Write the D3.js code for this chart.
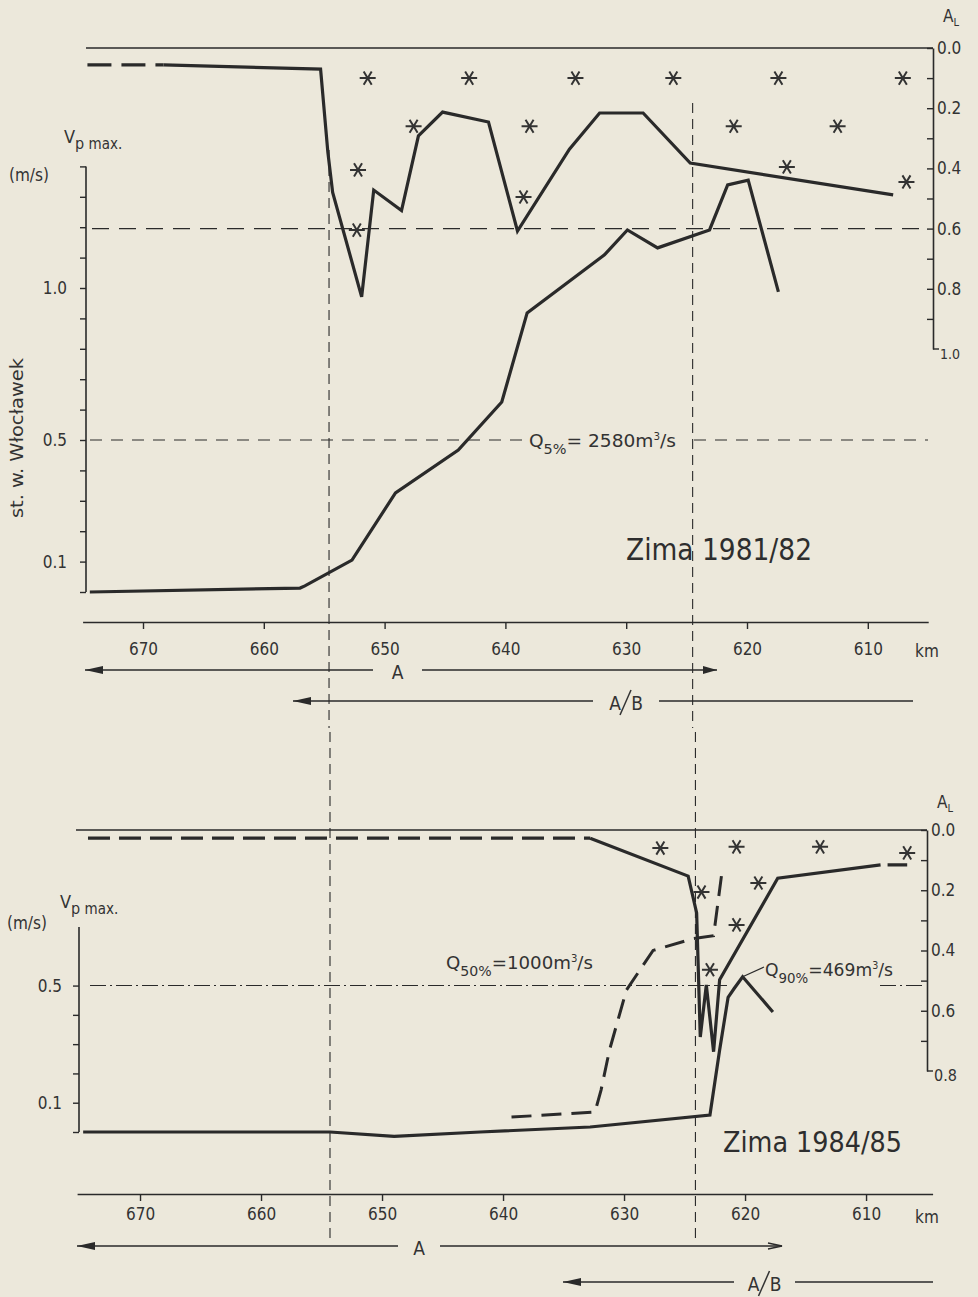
<!DOCTYPE html>
<html><head><meta charset="utf-8">
<script src="https://cdn.jsdelivr.net/npm/d3@7/dist/d3.min.js"></script>
<style>
html,body{margin:0;padding:0;background:#ece8db;}
svg text{font-family:"Liberation Sans Narrow","DejaVu Sans Condensed","Roboto",sans-serif;fill:#333;}
</style></head>
<body>
<svg id="c" width="978" height="1297"></svg>
<script>
// ---------- DATA ----------
const kmTicks = [670, 660, 650, 640, 630, 620, 610];
const topVpTicks = [0,0.1,0.2,0.3,0.4,0.5,0.6,0.7,0.8,0.9,1.0,1.1,1.2,1.3,1.4];
const topVpLabels = [0.1, 0.5, 1.0];
const topALTicks = [0,0.1,0.2,0.3,0.4,0.5,0.6,0.7,0.8,0.9];
const topALLabels = [0.0, 0.2, 0.4, 0.6, 0.8];
const botVpTicks = [0,0.1,0.2,0.3,0.4,0.5];
const botVpLabels = [0.1, 0.5];
const botALTicks = [0,0.1,0.2,0.3,0.4,0.5,0.6,0.7];
const botALLabels = [0.0, 0.2, 0.4, 0.6];

// Zima 1981/82 : ice cover A_L (right axis)
const topALDashed = [[674.6,0.056],[668.3,0.056]];
const topAL = [[668.3,0.056],[655.3,0.07],[654.7,0.345],[654.3,0.48],[651.9,0.827],[650.9,0.472],
  [648.6,0.54],[647.2,0.292],[645.2,0.213],[641.4,0.246],[639.0,0.608],[634.7,0.336],[632.2,0.216],
  [628.6,0.216],[624.7,0.382],[607.9,0.488]];
// Zima 1981/82 : Vp max (left axis)
const topVp = [[674.4,0.0],[657.0,0.013],[656.6,0.02],[652.7,0.105],[649.1,0.326],[643.9,0.467],
  [640.3,0.625],[638.2,0.918],[631.8,1.109],[629.9,1.191],[627.4,1.132],[623.1,1.191],[621.6,1.339],
  [619.9,1.355],[617.4,0.987]];
// asterisks (A_L)
const topStars = [[651.4,0.10],[643.0,0.10],[634.2,0.10],[626.1,0.10],[617.4,0.10],[607.1,0.10],
  [647.6,0.26],[638.0,0.26],[621.1,0.26],[612.5,0.26],
  [652.2,0.405],[616.7,0.395],[606.8,0.445],[638.5,0.495],[652.3,0.605]];
const topQ5 = 0.5;     // Vp level
const topALRef = 0.6;  // A_L level
const topBounds = [654.6, 624.5];

// Zima 1984/85
const botALDashed = [[674.3,0.027],[632.8,0.027]];
const botAL = [[632.8,0.027],[624.7,0.153],[624.0,0.275],[623.7,0.687],[623.2,0.514],[622.6,0.736],
  [622.1,0.497],[617.3,0.16],[608.8,0.116]];
const botALDashedEnd = [[608.8,0.116],[606.6,0.116]];
const botVp90 = [[674.7,0.0],[654.3,0.0],[649.0,-0.015],[641.9,0.0],[632.8,0.017],[622.9,0.058],
  [622.1,0.28],[621.4,0.46],[620.9,0.49],[620.2,0.53],[617.7,0.41]];
const botVp50 = [[639.3,0.051],[632.4,0.068],[631.9,0.143],[631.2,0.28],[629.8,0.485],
  [627.6,0.62],[624.3,0.66],[622.6,0.67],[621.9,0.89]];
const botStars = [[627.0,0.06],[620.7,0.056],[613.8,0.056],[606.6,0.076],
  [623.6,0.206],[618.9,0.176],[620.7,0.315],[622.9,0.464]];
const botQ50 = 0.5;
const botBounds = [654.3, 624.1];

// ---------- DRAW ----------
const svg = d3.select("#c");
const ink = "#2a2a2a";
svg.append("rect").attr("width",978).attr("height",1297).attr("fill","#ece8db");

function asterisk(r){
  const a = r*0.5, b = r*0.82;
  return `M${-r},0L${r},0M${-a},${-b}L${a},${b}M${-a},${b}L${a},${-b}`;
}
function tri(g, x, y, dir, len, half, filled){
  const p = dir<0 ? [[x,y],[x+len,y-half],[x+len,y+half]] : [[x,y],[x-len,y-half],[x-len,y+half]];
  if(filled){
    g.append("path").attr("d","M"+p.map(q=>q.join(",")).join("L")+"Z").attr("fill",ink);
  } else {
    g.append("path").attr("d",`M${p[1][0]},${p[1][1]}L${x},${y}L${p[2][0]},${p[2][1]}`)
      .attr("fill","none").attr("stroke",ink).attr("stroke-width",1.3);
  }
}
function styleAxis(g, fs){
  g.select(".domain").attr("stroke",ink).attr("stroke-width",1.6);
  g.selectAll(".tick line").attr("stroke",ink).attr("stroke-width",1.4);
  g.selectAll(".tick text").attr("fill","#333").style("font-size",fs+"px")
    .style("font-family",'"Liberation Sans Narrow","DejaVu Sans Condensed","Roboto",sans-serif');
}
function sub(g, x, y, parts){
  const t = g.append("text").attr("x",x).attr("y",y);
  parts.forEach(p=>t.append("tspan").attr("dy",p[1]).style("font-size",p[2]+"px").text(p[0]));
  return t;
}

function panel(cfg){
  const g = svg.append("g");
  const x = d3.scaleLinear().domain(cfg.xDomain).range(cfg.xRange);
  const yL = d3.scaleLinear().domain(cfg.vpDomain).range(cfg.vpRange);
  const yR = d3.scaleLinear().domain(cfg.alDomain).range(cfg.alRange);

  g.append("line").attr("x1",cfg.topLineX[0]).attr("x2",cfg.topLineX[1])
    .attr("y1",yR(0)).attr("y2",yR(0)).attr("stroke",ink).attr("stroke-width",1.6);

  const xa = g.append("g").attr("transform",`translate(0,${cfg.xAxisY})`)
    .call(d3.axisBottom(x).tickValues(kmTicks).tickSize(7).tickSizeOuter(0).tickPadding(cfg.xPad).tickFormat(d3.format("d")));
  styleAxis(xa, 17);
  g.append("text").attr("x",cfg.kmX).attr("y",cfg.xAxisY+cfg.kmDy).attr("text-anchor","middle")
    .style("font-size","17px").text("km");

  const la = g.append("g").attr("transform",`translate(${cfg.leftX},0)`)
    .call(d3.axisLeft(yL).tickValues(cfg.vpTicks).tickSize(6).tickSizeOuter(0).tickPadding(cfg.lPad)
      .tickFormat(d => cfg.vpLabels.some(v=>Math.abs(v-d)<1e-9) ? d.toFixed(1) : ""));
  la.select(".domain").attr("d",`M0,${cfg.vpRange[0]}V${cfg.leftTop}`);
  styleAxis(la, 17);

  const ra = g.append("g").attr("transform",`translate(${cfg.rightX},0)`)
    .call(d3.axisRight(yR).tickValues(cfg.alTicks).tickSizeInner(-6).tickSizeOuter(0).tickPadding(4)
      .tickFormat(d => cfg.alLabels.some(v=>Math.abs(v-d)<1e-9) ? d.toFixed(1) : ""));
  styleAxis(ra, 17);
  const end = cfg.alDomain[1];
  g.append("line").attr("x1",cfg.rightX).attr("x2",cfg.rightX+6).attr("y1",yR(end)).attr("y2",yR(end))
    .attr("stroke",ink).attr("stroke-width",1.4);
  g.append("text").attr("x",cfg.rightX+7).attr("y",yR(end)+cfg.endDy).style("font-size",cfg.endFs+"px").text(end.toFixed(1));
  sub(g, cfg.rightX+10, cfg.alLabelY, [["A",0,17],["L",4,11]]);

  sub(g, cfg.vpLabelX, cfg.vpLabelY, [["V",0,18],["p",6,16],[" max.",0,15]]);
  g.append("text").attr("x",cfg.msX).attr("y",cfg.msY).style("font-size","17px").text("(m/s)");

  cfg.bounds.forEach((b,i)=>{
    g.append("line").attr("x1",x(b)).attr("x2",x(b)).attr("y1",cfg.boundY[i][0]).attr("y2",cfg.boundY[i][1])
      .attr("stroke",ink).attr("stroke-width",1.1).attr("stroke-dasharray","10,6");
  });

  const ay = cfg.arrowA.y;
  g.append("line").attr("x1",cfg.arrowA.x0).attr("x2",cfg.arrowA.g0).attr("y1",ay).attr("y2",ay).attr("stroke",ink).attr("stroke-width",1.3);
  g.append("line").attr("x1",cfg.arrowA.g1).attr("x2",cfg.arrowA.x1).attr("y1",ay).attr("y2",ay).attr("stroke",ink).attr("stroke-width",1.3);
  tri(g, cfg.arrowA.x0, ay, -1, 18, 4, true);
  tri(g, cfg.arrowA.x1, ay, 1, 14, cfg.arrowA.openRight?3:4, !cfg.arrowA.openRight);
  g.append("text").attr("x",(cfg.arrowA.g0+cfg.arrowA.g1)/2).attr("y",ay+9).attr("text-anchor","middle")
    .style("font-size","19px").text("A");
  const by = cfg.arrowB.y;
  g.append("line").attr("x1",cfg.arrowB.x0).attr("x2",cfg.arrowB.g0).attr("y1",by).attr("y2",by).attr("stroke",ink).attr("stroke-width",1.3);
  g.append("line").attr("x1",cfg.arrowB.g1).attr("x2",cfg.arrowB.x1).attr("y1",by).attr("y2",by).attr("stroke",ink).attr("stroke-width",1.3);
  tri(g, cfg.arrowB.x0, by, -1, 18, 4, true);
  const bx = (cfg.arrowB.g0+cfg.arrowB.g1)/2;
  g.append("text").attr("x",bx-11).attr("y",by+9).attr("text-anchor","middle").style("font-size","19px").text("A");
  g.append("line").attr("x1",bx-6).attr("x2",bx+5).attr("y1",by+14).attr("y2",by-11).attr("stroke","#333").attr("stroke-width",1.5);
  g.append("text").attr("x",bx+11).attr("y",by+9).attr("text-anchor","middle").style("font-size","19px").text("B");

  g.append("text").attr("x",cfg.title.x).attr("y",cfg.title.y).attr("textLength",cfg.title.w)
    .attr("lengthAdjust","spacingAndGlyphs").style("font-size",cfg.title.fs+"px").style("fill","#2e2e2e").text(cfg.title.t);

  return {g,x,yL,yR};
}

const lineStyle = (sel, w, dash) => sel.attr("fill","none").attr("stroke",ink).attr("stroke-width",w)
  .attr("stroke-linejoin","miter").attr("stroke-dasharray",dash||null);

function qLabel(g, x, y, q, rest, w){
  const t = g.append("text").attr("x",x).attr("y",y).attr("textLength",w).attr("lengthAdjust","spacingAndGlyphs");
  t.append("tspan").style("font-size","18px").text("Q");
  t.append("tspan").attr("dy",7).style("font-size","14px").text(q);
  t.append("tspan").attr("dy",-7).style("font-size","18px").text(rest);
  t.append("tspan").attr("dy",-7).style("font-size","10px").text("3");
  t.append("tspan").attr("dy",7).style("font-size","18px").text("/s");
}

// ===== TOP PANEL =====
const T = panel({
  xDomain:[675,605], xRange:[82.6,928.2],
  vpDomain:[0,1.4], vpRange:[592,166.4],
  alDomain:[0,1.0], alRange:[48,349],
  topLineX:[86,933], xAxisY:622, xPad:14, kmX:927, kmDy:35,
  leftX:86, leftTop:166.4, vpTicks:topVpTicks, vpLabels:topVpLabels, lPad:13,
  rightX:933, alTicks:topALTicks, alLabels:topALLabels, alLabelY:22, endDy:10, endFs:14,
  vpLabelX:64, vpLabelY:143, msX:9, msY:181,
  bounds:topBounds, boundY:[[150,728],[103,728]],
  arrowA:{y:670, x0:85, x1:717, g0:373, g1:422, openRight:false},
  arrowB:{y:701, x0:293, x1:913, g0:593, g1:659},
  title:{x:626, y:560, w:186, fs:30, t:"Zima 1981/82"}
});
{
  const {g,x,yL,yR} = T;
  g.append("line").attr("x1",92).attr("x2",925).attr("y1",yR(topALRef)).attr("y2",yR(topALRef))
    .attr("stroke",ink).attr("stroke-width",1.2).attr("stroke-dasharray","17,10");
  g.append("line").attr("x1",90).attr("x2",522).attr("y1",yL(topQ5)).attr("y2",yL(topQ5))
    .attr("stroke",ink).attr("stroke-width",1.2).attr("stroke-dasharray","12,9");
  g.append("line").attr("x1",694).attr("x2",928).attr("y1",yL(topQ5)).attr("y2",yL(topQ5))
    .attr("stroke",ink).attr("stroke-width",1.2).attr("stroke-dasharray","12,9");
  qLabel(g, 529, yL(topQ5)+7, "5%", "= 2580m", 147);

  const lA = d3.line().x(d=>x(d[0])).y(d=>yR(d[1]));
  const lV = d3.line().x(d=>x(d[0])).y(d=>yL(d[1]));
  lineStyle(g.append("path").attr("d",lA(topALDashed)), 3.4, "24,10");
  lineStyle(g.append("path").attr("d",lA(topAL)), 3.2);
  lineStyle(g.append("path").attr("d",lV(topVp)), 3.2);
  g.selectAll(".star").data(topStars).join("path").attr("class","star")
    .attr("transform",d=>`translate(${x(d[0])},${yR(d[1])})`).attr("d",asterisk(8))
    .attr("fill","none").attr("stroke","#333").attr("stroke-width",2);
  g.append("text").attr("transform","translate(23,438) rotate(-90)").attr("text-anchor","middle")
    .attr("textLength",160).attr("lengthAdjust","spacingAndGlyphs")
    .style("font-size","18px").text("st. w. Włocławek");
}

// ===== BOTTOM PANEL =====
const B = panel({
  xDomain:[675.2,604.5], xRange:[77.1,932.6],
  vpDomain:[0,0.7], vpRange:[1132,927],
  alDomain:[0,0.8], alRange:[830,1071],
  topLineX:[76,927], xAxisY:1194, xPad:7, kmX:927, kmDy:29,
  leftX:79, leftTop:927, vpTicks:botVpTicks, vpLabels:botVpLabels, lPad:11,
  rightX:927, alTicks:botALTicks, alLabels:botALLabels, alLabelY:808, endDy:10, endFs:16,
  vpLabelX:60, vpLabelY:908, msX:7, msY:929,
  bounds:botBounds, boundY:[[732,1240],[732,1240]],
  arrowA:{y:1246, x0:77, x1:782, g0:398, g1:440, openRight:true},
  arrowB:{y:1282, x0:563, x1:933, g0:734, g1:795},
  title:{x:723, y:1152, w:179, fs:28, t:"Zima 1984/85"}
});
{
  const {g,x,yL,yR} = B;
  g.append("line").attr("x1",90).attr("x2",727).attr("y1",yL(botQ50)).attr("y2",yL(botQ50))
    .attr("stroke",ink).attr("stroke-width",1.1).attr("stroke-dasharray","16,4,2,4");
  g.append("line").attr("x1",880).attr("x2",925).attr("y1",yL(botQ50)).attr("y2",yL(botQ50))
    .attr("stroke",ink).attr("stroke-width",1.1).attr("stroke-dasharray","16,4,2,4");
  qLabel(g, 446, 969, "50%", "=1000m", 147);
  g.append("line").attr("x1",x(620.2)).attr("y1",yL(0.53)).attr("x2",764).attr("y2",967)
    .attr("stroke",ink).attr("stroke-width",1.2);
  qLabel(g, 765, 976, "90%", "=469m", 128);

  const lA = d3.line().x(d=>x(d[0])).y(d=>yR(d[1]));
  const lV = d3.line().x(d=>x(d[0])).y(d=>yL(d[1]));
  lineStyle(g.append("path").attr("d",lA(botALDashed)), 3.2, "22,9");
  lineStyle(g.append("path").attr("d",lA(botAL)), 3.2);
  lineStyle(g.append("path").attr("d",lA(botALDashedEnd)), 3.2, "0,7,20,0");
  lineStyle(g.append("path").attr("d",lV(botVp90)), 3.2);
  lineStyle(g.append("path").attr("d",lV(botVp50)), 3.0, "20,10");
  g.selectAll(".star").data(botStars).join("path").attr("class","star")
    .attr("transform",d=>`translate(${x(d[0])},${yR(d[1])})`).attr("d",asterisk(8))
    .attr("fill","none").attr("stroke","#333").attr("stroke-width",2);
}
</script>
</body></html>
